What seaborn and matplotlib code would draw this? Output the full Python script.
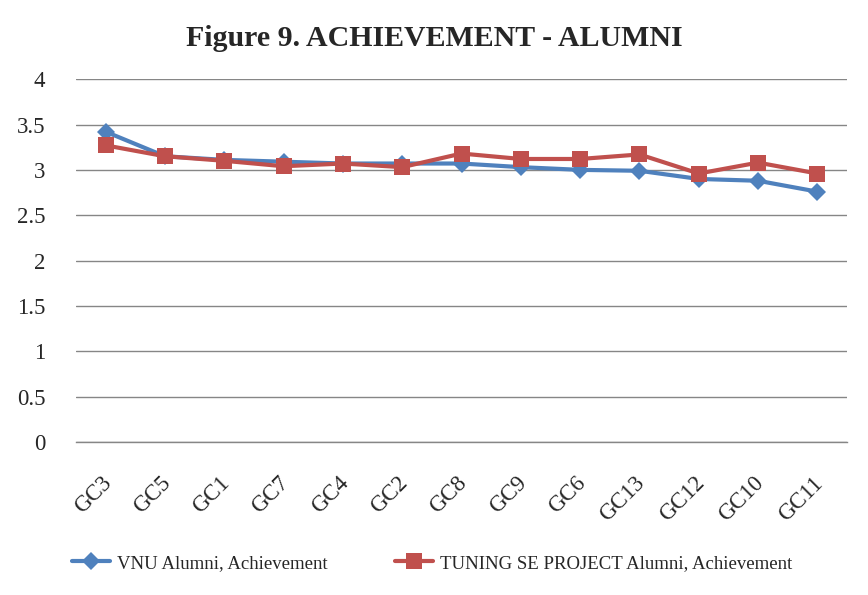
import pandas as pd
import matplotlib.pyplot as plt
import matplotlib.transforms as mtransforms
import seaborn as sns

categories = ['GC3', 'GC5', 'GC1', 'GC7', 'GC4', 'GC2', 'GC8',
              'GC9', 'GC6', 'GC13', 'GC12', 'GC10', 'GC11']
vnu_alumni = [3.42, 3.15, 3.11, 3.09, 3.07, 3.07, 3.07,
              3.03, 3.00, 2.99, 2.90, 2.88, 2.76]
tuning_alumni = [3.27, 3.15, 3.10, 3.04, 3.07, 3.03, 3.18,
                 3.12, 3.12, 3.17, 2.96, 3.08, 2.96]
series_names = ['VNU Alumni, Achievement',
                'TUNING SE PROJECT Alumni, Achievement']

sns.set_theme(style='white')
plt.rcParams['font.family'] = ['Liberation Serif', 'DejaVu Serif']

df = pd.DataFrame({'category': categories,
                   series_names[0]: vnu_alumni,
                   series_names[1]: tuning_alumni})
pos = list(range(len(categories)))

fig = plt.figure(figsize=(8.68, 5.95), dpi=100)
ax = fig.add_axes([0.0876, 0.257, 0.8882, 0.610])

sns.lineplot(x=pos, y=df[series_names[0]], ax=ax, color='#4F81BD',
             linewidth=3, marker='D', markersize=9, markeredgewidth=0,
             label=series_names[0])
sns.lineplot(x=pos, y=df[series_names[1]], ax=ax, color='#C0504D',
             linewidth=3, marker='s', markersize=11, markeredgewidth=0,
             label=series_names[1])

ax.set_xlim(-0.5, len(categories) - 0.5)
ax.set_ylim(0, 4)
yt = [i * 0.5 for i in range(9)]
ax.set_yticks(yt)
ax.set_yticklabels([f'{v:g}' for v in yt], fontsize=16.5)
ax.set_xticks(pos)
ax.set_xticklabels(categories, fontsize=16.5, rotation=45, ha='right',
                   rotation_mode='anchor')
ax.tick_params(axis='x', pad=22, length=0)
ax.tick_params(axis='y', pad=22, length=0)
# nudge the slanted labels a little to the left, like Excel does
shift = mtransforms.ScaledTranslation(-5 / 100, 0, fig.dpi_scale_trans)
for lab in ax.get_xticklabels():
    lab.set_transform(lab.get_transform() + shift)
ax.yaxis.grid(True, color='#868686', linewidth=1)
ax.set_axisbelow(True)
for s in ax.spines.values():
    s.set_visible(False)
ax.spines['bottom'].set_visible(True)
ax.spines['bottom'].set_color('#868686')
ax.spines['bottom'].set_linewidth(1)
ax.set_xlabel('')
ax.set_ylabel('')

fig.suptitle('Figure 9. ACHIEVEMENT - ALUMNI', fontsize=21.5,
             fontweight='bold', y=0.958)

handles, labels = ax.get_legend_handles_labels()
ax.legend_.remove()
fig.legend(handles, labels, loc='center', bbox_to_anchor=(0.498, 0.053),
           ncol=2, frameon=False, fontsize=13.5, columnspacing=3.6,
           handlelength=2.0, handletextpad=0.4)

fig.savefig('out.png', dpi=100)
